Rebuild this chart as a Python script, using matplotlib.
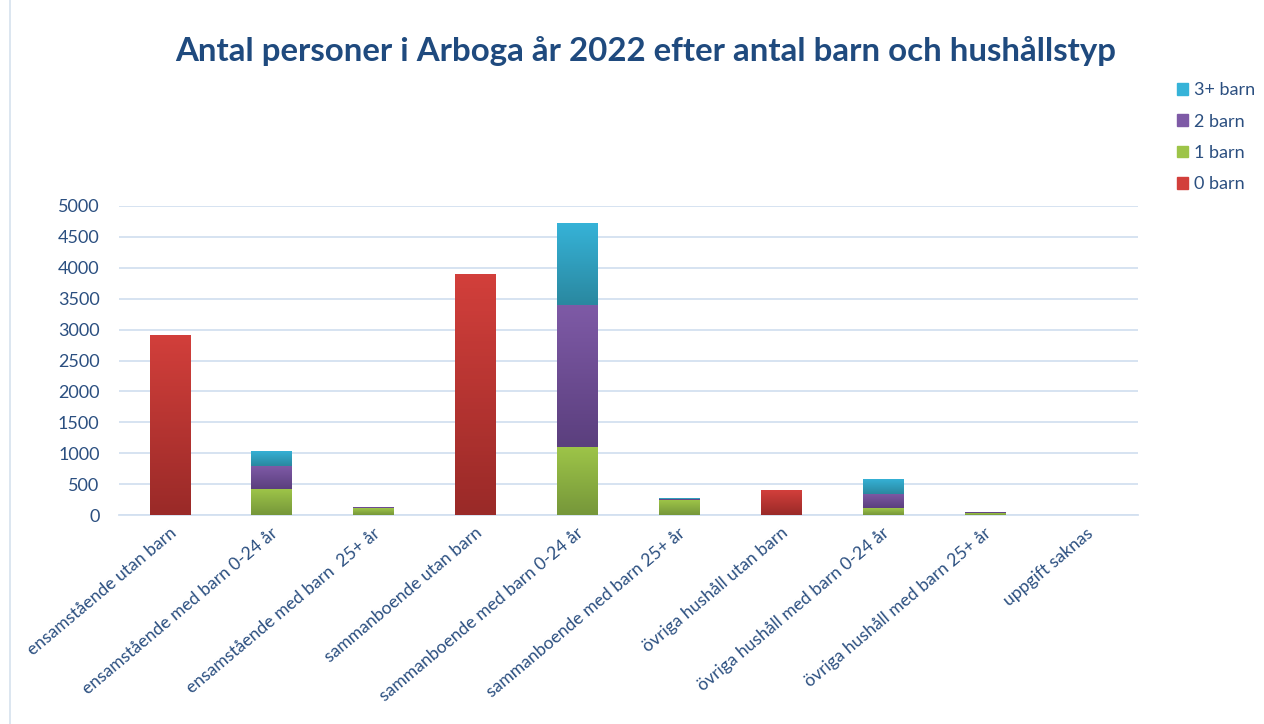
import matplotlib
matplotlib.use("Agg")
import matplotlib.pyplot as plt
import matplotlib.colors as mcolors
import matplotlib.transforms as mtransforms
from matplotlib.patches import Rectangle, Patch
import numpy as np

categories = ["ensamstående utan barn",
              "ensamstående med barn 0-24 år",
              "ensamstående med barn  25+ år",
              "sammanboende utan barn",
              "sammanboende med barn 0-24 år",
              "sammanboende med barn 25+ år",
              "övriga hushåll utan barn",
              "övriga hushåll med barn 0-24 år",
              "övriga hushåll med barn 25+ år",
              "uppgift saknas"]
barn0 = [2920, 0, 0, 3900, 0, 0, 400, 0, 0, 0]
barn1 = [0, 420, 110, 0, 1100, 240, 0, 110, 30, 0]
barn2 = [0, 365, 15, 0, 2290, 25, 0, 230, 20, 0]
barn3 = [0, 255, 5, 0, 1330, 15, 0, 245, 5, 0]
series = [("0 barn", barn0), ("1 barn", barn1), ("2 barn", barn2), ("3+ barn", barn3)]
# (top colour, bottom colour) for the gradient look
grad = {"0 barn": ("#d23f3b", "#9a2a28"),
        "1 barn": ("#9dc448", "#76973a"),
        "2 barn": ("#7e5aa6", "#5b3f7e"),
        "3+ barn": ("#36b3d8", "#2a88a0")}

plt.rcParams['font.family'] = ['Lato', 'DejaVu Sans']
textcol = "#2b4f80"
fig = plt.figure(figsize=(12.64, 7.24), dpi=100)
fig.patches.append(Rectangle((10/1264, -0.01), 1.1, 1.1, transform=fig.transFigure,
                             fill=False, edgecolor="#d5e1ee", lw=1.2))
ax = fig.add_axes([119/1264, 209/724, 1019/1264, 309/724])

x = np.arange(len(categories))
bottom = np.zeros(len(categories))
for name, vals in series:
    vals = np.array(vals, dtype=float)
    bars = ax.bar(x, vals, 0.4, bottom=bottom, color=grad[name][0], zorder=3, lw=0)
    cmap = mcolors.LinearSegmentedColormap.from_list(name, [grad[name][1], grad[name][0]])
    for b, v in zip(bars, vals):
        if v <= 0:
            continue
        x0, y0 = b.get_x(), b.get_y()
        im = ax.imshow(np.linspace(0, 1, 64).reshape(-1, 1), cmap=cmap, origin="lower",
                       extent=[x0, x0 + b.get_width(), y0, y0 + b.get_height()],
                       aspect="auto", zorder=4)
        im.set_clip_path(b)
    bottom += vals

ax.set_xlim(-0.5, len(categories) - 0.5)
ax.set_ylim(0, 5000)
ax.set_yticks(range(0, 5001, 500))
ax.grid(axis="y", color="#d3e0f0", lw=1.3, zorder=0)
for s in ["top", "right", "left"]:
    ax.spines[s].set_visible(False)
ax.spines["bottom"].set_color("#d3e0f0")
ax.spines["bottom"].set_linewidth(1.3)
ax.tick_params(length=0, colors=textcol, labelsize=13)
ax.tick_params(axis="y", pad=14)
ax.set_xticks(x)
ax.set_xticklabels(categories, rotation=40, ha="right", va="center", rotation_mode="anchor",
                   fontsize=12.6, color=textcol)
ax.tick_params(axis="x", pad=0)
shift = mtransforms.ScaledTranslation(4/100, -16/100, fig.dpi_scale_trans)
for lbl in ax.get_xticklabels():
    lbl.set_transform(lbl.get_transform() + shift)

fig.text(0.511, 0.93, "Antal personer i Arboga år 2022 efter antal barn och hushållstyp",
         ha="center", va="center", fontsize=23.8, fontweight="bold", color="#1f4a7e")

handles = [Patch(color=grad[n][0]) for n, _ in series[::-1]]
labels = [n for n, _ in series[::-1]]
fig.legend(handles, labels, loc="upper left", bbox_to_anchor=(1161/1264, 1 - 66/724),
           frameon=False, fontsize=13, labelcolor=textcol, labelspacing=0.85,
           handlelength=0.6, handleheight=0.6, handletextpad=0.35)

fig.savefig("out.png", dpi=100)
